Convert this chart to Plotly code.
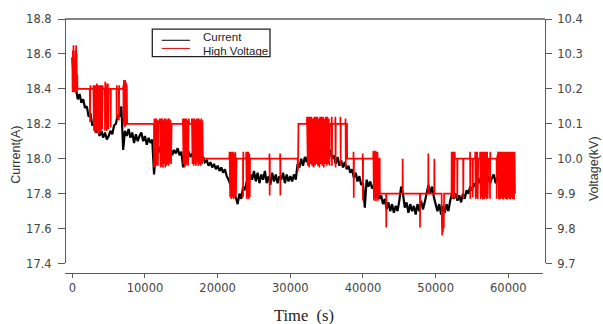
import plotly.graph_objects as go

# ---------------- data ----------------
# Current (A), sampled every 250 s starting at t = 0
cur_step = 250
cur_a = [
    18.58, 18.44, 18.40, 18.34, 18.37, 18.32, 18.34, 18.29, 18.30, 18.24, 18.26, 18.19, 18.21, 18.15, 18.17, 18.13, 18.16, 18.12, 18.15, 18.11,
    18.13, 18.16, 18.14, 18.19, 18.20, 18.25, 18.24, 18.30, 18.05, 18.16, 18.13, 18.17, 18.12, 18.15, 18.09, 18.14, 18.10, 18.13, 18.15, 18.10,
    18.13, 18.08, 18.12, 18.09, 18.11, 17.91, 18.06, 18.03, 18.07, 18.02, 18.05, 18.01, 18.06, 18.03, 18.07, 18.02, 18.05, 18.03, 18.06, 18.02,
    18.04, 17.95, 18.03, 18.00, 18.04, 18.01, 18.03, 17.99, 18.02, 17.98, 18.01, 17.97, 18.01, 17.98, 17.99, 17.96, 17.98, 17.95, 17.97, 17.94,
    17.96, 17.93, 17.95, 17.92, 17.94, 17.90, 17.88, 17.85, 17.83, 17.80, 17.78, 17.74, 17.80, 17.77, 17.84, 17.82, 17.87, 17.85, 17.91, 17.88,
    17.93, 17.87, 17.92, 17.86, 17.91, 17.88, 17.93, 17.86, 17.90, 17.85, 17.92, 17.87, 17.91, 17.86, 17.90, 17.88, 17.92, 17.86, 17.91, 17.87,
    17.90, 17.87, 17.91, 17.88, 17.97, 17.95, 18.00, 17.96, 18.01, 17.98, 18.03, 18.00, 18.04, 18.01, 18.05, 18.02, 18.05, 18.03, 18.06, 18.04,
    18.07, 18.03, 18.05, 18.00, 18.02, 17.97, 18.01, 17.96, 17.99, 17.95, 17.98, 17.94, 17.96, 17.92, 17.94, 17.89, 17.92, 17.87, 17.90, 17.85,
    17.86, 17.72, 17.88, 17.84, 17.87, 17.83, 17.85, 17.80, 17.82, 17.77, 17.79, 17.74, 17.77, 17.71, 17.75, 17.70, 17.74, 17.69, 17.73, 17.70,
    17.76, 17.84, 17.80, 17.72, 17.75, 17.69, 17.74, 17.70, 17.73, 17.68, 17.74, 17.70, 17.76, 17.71, 17.75, 17.80, 17.85, 17.80, 17.84, 17.78,
    17.74, 17.70, 17.74, 17.68, 17.73, 17.69, 17.74, 17.70, 17.76, 17.80, 17.77, 17.80, 17.76, 17.79, 17.75, 17.80, 17.77, 17.82, 17.80, 17.84,
    17.82, 17.86, 17.84, 17.89, 17.86, 17.90, 17.85, 17.88, 17.86, 17.90, 17.86, 17.89, 17.91, 17.86, 17.90, 17.87, 17.90, 17.88, 17.91, 17.87,
    17.90, 17.87, 17.89, 17.88,
]
cur_t = [i * cur_step for i in range(len(cur_a))]

# High voltage (kV): (time s, kV) samples
hv_samples = [
    (0, 10.28), (40, 10.19), (80, 10.31), (120, 10.20), (160, 10.325), (200, 10.21), (240, 10.29), (280, 10.19),
    (330, 10.27), (380, 10.20), (430, 10.31), (480, 10.19), (520, 10.325), (560, 10.21), (600, 10.30), (640, 10.19),
    (690, 10.24), (720, 10.2),
    (2400, 10.2), (2440, 10.105), (2480, 10.21), (2550, 10.2), (2880, 10.2),
    (2900, 10.21), (2980, 10.08), (3060, 10.21), (3140, 10.075), (3220, 10.21), (3300, 10.08), (3380, 10.215),
    (3460, 10.075), (3540, 10.21), (3620, 10.07), (3700, 10.21), (3780, 10.075), (3860, 10.21), (3940, 10.08),
    (4020, 10.21), (4100, 10.085), (4180, 10.21), (4220, 10.2),
    (4480, 10.2), (4500, 10.08), (4530, 10.22), (4560, 10.2),
    (4720, 10.2), (4750, 10.08), (4800, 10.215), (4850, 10.09), (4900, 10.215), (4950, 10.085), (4990, 10.2),
    (5260, 10.2), (5280, 10.09), (5310, 10.2),
    (6080, 10.2), (6100, 10.115), (6130, 10.21), (6160, 10.2),
    (6400, 10.2), (6420, 10.11), (6450, 10.21), (6480, 10.2),
    (6990, 10.2), (7020, 10.21), (7060, 10.1), (7100, 10.225), (7140, 10.095), (7180, 10.22), (7220, 10.09),
    (7260, 10.225), (7300, 10.1), (7340, 10.22), (7380, 10.095), (7420, 10.215), (7460, 10.10), (7500, 10.21),
    (7550, 10.1), (7600, 10.1),
    (11230, 10.1), (11260, 9.975), (11300, 10.115), (11340, 10.1),
    (11480, 10.115), (11540, 9.98), (11600, 10.115), (11660, 9.985), (11720, 10.11), (11780, 9.98), (11830, 10.1),
    (12070, 10.115), (12150, 9.975), (12230, 10.115), (12310, 9.98), (12390, 10.115), (12470, 9.975), (12550, 10.11),
    (12630, 9.985), (12710, 10.115), (12790, 9.975), (12870, 10.115), (12950, 9.98), (13030, 10.11), (13110, 9.985),
    (13190, 10.115), (13270, 9.98), (13350, 10.115), (13430, 9.99), (13510, 10.11), (13590, 9.985), (13670, 10.1),
    (13700, 10.1),
    (15190, 10.1), (15220, 10.115), (15300, 9.985), (15380, 10.115), (15460, 9.975), (15540, 10.115), (15620, 9.98),
    (15700, 10.115), (15780, 9.985), (15860, 10.11), (15940, 9.98), (16020, 10.115), (16100, 10.1),
    (16430, 10.1), (16460, 10.115), (16540, 9.985), (16620, 10.115), (16700, 9.98), (16780, 10.115), (16860, 9.985),
    (16940, 10.11), (17020, 9.98), (17100, 10.115), (17180, 9.99), (17260, 10.115), (17340, 9.98), (17420, 10.115),
    (17500, 9.985), (17580, 10.11), (17660, 9.98), (17740, 10.115), (17820, 9.985), (17900, 10.11), (17980, 9.99),
    (18030, 10.0),
    (21600, 10.0), (21640, 10.02), (21720, 9.89), (21800, 10.02), (21880, 9.885), (21960, 10.02), (22040, 9.89),
    (22120, 10.02), (22200, 9.885), (22280, 10.015), (22360, 9.89), (22440, 10.02), (22520, 9.895), (22600, 10.0),
    (23480, 10.0), (23500, 9.89), (23530, 10.02), (23560, 10.0),
    (23900, 10.0), (23930, 10.02), (24000, 9.885), (24070, 10.02), (24140, 9.89), (24210, 10.02), (24280, 9.885),
    (24350, 10.015), (24420, 9.89), (24460, 10.0),
    (27110, 10.0), (27130, 10.015), (27160, 9.895), (27190, 10.0),
    (28580, 10.0), (28600, 10.015), (28630, 9.895), (28660, 10.0),
    (31000, 10.0), (31050, 9.965), (31120, 10.1), (32280, 10.1),
    (32300, 10.12), (32400, 9.98), (32500, 10.12), (32600, 9.975), (32700, 10.12), (32800, 9.985), (32900, 10.12),
    (33000, 9.98), (33100, 10.115), (33200, 9.975), (33300, 10.12), (33400, 9.98), (33500, 10.12), (33600, 9.985),
    (33700, 10.12), (33800, 9.98), (33900, 10.115), (34000, 9.975), (34100, 10.12), (34200, 9.985), (34300, 10.12),
    (34400, 9.98), (34500, 10.12), (34600, 9.975), (34700, 10.115), (34800, 9.985), (34900, 10.12), (35000, 9.98),
    (35100, 10.12), (35200, 9.985), (35300, 10.115), (35400, 9.98), (35460, 10.1),
    (35680, 10.1), (35700, 10.12), (35730, 9.98), (35760, 10.1),
    (36180, 10.1), (36200, 10.12), (36230, 9.975), (36260, 10.1),
    (36880, 10.1), (36900, 10.12), (36930, 9.98), (36960, 10.1),
    (37580, 10.1), (37600, 10.115), (37630, 9.975), (37660, 10.1),
    (37800, 10.1), (37820, 10.0),
    (38680, 10.0), (38700, 10.02), (38730, 9.888), (38760, 10.0),
    (39940, 10.0), (39960, 10.015), (39990, 9.88), (40020, 10.0),
    (41400, 10.0), (41430, 10.023), (41500, 9.88), (41570, 10.02), (41640, 9.885), (41710, 10.023), (41780, 9.878),
    (41850, 10.02), (41920, 9.885), (41990, 10.02), (42060, 9.88), (42120, 10.0), (42300, 10.0), (42320, 9.9),
    (43180, 9.9), (43200, 9.803), (43230, 9.9),
    (45440, 9.9), (45460, 10.0), (45490, 9.9),
    (47830, 9.9), (47850, 9.803), (47880, 9.9),
    (48970, 9.9), (48990, 10.015), (49020, 9.9),
    (49800, 9.9), (49820, 10.0), (49850, 9.9),
    (50820, 9.9), (50850, 9.82), (50900, 9.78), (50950, 9.84), (51000, 9.79), (51060, 9.85), (51120, 9.8), (51160, 9.9),
    (52180, 9.9), (52200, 10.02), (52270, 9.887), (52340, 10.02), (52410, 9.885), (52480, 10.02), (52550, 9.888),
    (52620, 10.02), (52660, 10.0),
    (52960, 10.0), (52980, 9.885), (53010, 10.0),
    (53780, 10.0), (53800, 9.885), (53830, 10.0),
    (54710, 10.0), (54730, 10.02), (54760, 9.885), (54790, 10.0),
    (55080, 10.0), (55100, 9.89), (55130, 10.0),
    (55420, 10.0), (55440, 10.02), (55510, 9.885), (55580, 10.02), (55650, 9.89), (55720, 10.02), (55790, 9.885),
    (55860, 10.0),
    (56100, 10.0), (56120, 10.02), (56200, 9.885), (56280, 10.02), (56360, 9.89), (56440, 10.02), (56520, 9.883),
    (56600, 10.02), (56680, 9.885), (56760, 10.02), (56840, 9.89), (56920, 10.02), (57000, 9.885), (57080, 10.02),
    (57160, 9.887), (57240, 10.0),
    (57460, 10.0), (57480, 9.885), (57510, 10.02), (57540, 10.0),
    (58380, 10.0), (58400, 9.885), (58430, 10.0),
    (58620, 10.02), (58700, 9.885), (58780, 10.02), (58860, 9.883), (58940, 10.02), (59020, 9.888), (59100, 10.02),
    (59180, 9.885), (59260, 10.02), (59340, 9.883), (59420, 10.02), (59500, 9.888), (59580, 10.02), (59660, 9.885),
    (59740, 10.02), (59820, 9.883), (59900, 10.02), (59980, 9.888), (60060, 10.02), (60140, 9.885), (60220, 10.02),
    (60300, 9.883), (60380, 10.02), (60460, 9.888), (60540, 10.02), (60620, 9.885), (60700, 10.02), (60780, 9.883),
    (60860, 10.02), (60920, 9.9),
]
hv_t = [p[0] for p in hv_samples]
hv_v = [p[1] for p in hv_samples]

x_ticks = [0, 10000, 20000, 30000, 40000, 50000, 60000]
y1_ticks = [17.4, 17.6, 17.8, 18.0, 18.2, 18.4, 18.6, 18.8]
y2_ticks = [9.7, 9.8, 9.9, 10.0, 10.1, 10.2, 10.3, 10.4]

# ---------------- layout helpers ----------------
W, H = 603, 324
L, R, T, B = 65, 58, 14, 51
PW, PH = W - L - R, H - T - B


def px(x):
    return (x - L) / PW


def py(y):
    return (H - B - y) / PH


axis_col = "#5a5a5a"
tick_font = dict(family="DejaVu Sans", size=11.5, color="#444444")

fig = go.Figure()
fig.add_trace(go.Scatter(x=cur_t, y=cur_a, mode="lines", name="Current",
                         line=dict(color="#000000", width=2.2, simplify=False),
                         yaxis="y", showlegend=False))
fig.add_trace(go.Scatter(x=hv_t, y=hv_v, mode="lines", name="High Voltage",
                         line=dict(color="#ff0000", width=1.7, simplify=False),
                         yaxis="y2", showlegend=False))

fig.update_layout(
    width=W, height=H,
    margin=dict(l=L, r=R, t=T, b=B, pad=0),
    paper_bgcolor="white", plot_bgcolor="white",
    xaxis=dict(domain=[0, (543 - L) / PW], range=[-1005, 64770], anchor="free", position=0,
               tickvals=x_ticks, ticktext=[str(v) for v in x_ticks],
               ticks="outside", ticklen=4, tickwidth=1, tickcolor=axis_col,
               showline=True, linecolor=axis_col, linewidth=1,
               showgrid=False, zeroline=False, tickfont=tick_font),
    yaxis=dict(domain=[(H - B - 263.3) / PH, 1], range=[17.4, 18.8], anchor="free", position=0,
               tickvals=y1_ticks, ticktext=["%.1f" % v for v in y1_ticks],
               ticks="outside", ticklen=7, tickwidth=1, tickcolor=axis_col,
               showline=True, linecolor=axis_col, linewidth=1, ticklabelstandoff=4,
               showgrid=False, zeroline=False, tickfont=tick_font),
    yaxis2=dict(overlaying="y", side="right", range=[9.7, 10.4], anchor="free", position=1,
                tickvals=y2_ticks, ticktext=["%.1f" % v for v in y2_ticks],
                ticks="outside", ticklen=6, tickwidth=1, tickcolor=axis_col,
                showline=True, linecolor=axis_col, linewidth=1, ticklabelstandoff=3,
                showgrid=False, zeroline=False, tickfont=tick_font),
    showlegend=False,
)

shapes = [
    # top frame line
    dict(type="line", xref="paper", yref="paper", x0=0, x1=1, y0=1, y1=1,
         line=dict(color=axis_col, width=1.3)),
    # legend box and samples
    dict(type="rect", xref="paper", yref="paper", x0=px(152.3), x1=px(270), y0=py(52.3), y1=py(24.3),
         line=dict(color="#222222", width=1.3), fillcolor="white"),
    dict(type="line", xref="paper", yref="paper", x0=px(161.7), x1=px(190), y0=py(35.7), y1=py(35.7),
         line=dict(color="#000000", width=1)),
    dict(type="line", xref="paper", yref="paper", x0=px(161.7), x1=px(190), y0=py(44), y1=py(44),
         line=dict(color="#dd0000", width=1)),
]
fig.update_layout(shapes=shapes)

leg_font = dict(family="Liberation Sans", size=11.5, color="#222222")
annotations = [
    dict(text="Current", x=px(200.7), y=py(32.7), xref="paper", yref="paper",
         xanchor="left", yanchor="middle", showarrow=False, font=leg_font),
    dict(text="High Voltage", x=px(200.7), y=py(46.7), xref="paper", yref="paper",
         xanchor="left", yanchor="middle", showarrow=False, font=leg_font),
    dict(text="Current(A)", x=px(16), y=py(152.5), xref="paper", yref="paper", textangle=-90,
         xanchor="center", yanchor="middle", showarrow=False,
         font=dict(family="Liberation Sans Narrow, Liberation Sans", size=12.5, color="#333333")),
    dict(text="Voltage(kV)", x=px(594), y=py(167), xref="paper", yref="paper", textangle=-90,
         xanchor="center", yanchor="middle", showarrow=False,
         font=dict(family="Liberation Sans Narrow, Liberation Sans", size=12.5, color="#333333")),
    dict(text="Time\u00a0 (s)", x=px(304), y=py(316), xref="paper", yref="paper",
         xanchor="center", yanchor="middle", showarrow=False,
         font=dict(family="Liberation Serif", size=16.5, color="#222222")),
]
fig.update_layout(annotations=annotations)

fig.write_html("out.html")
